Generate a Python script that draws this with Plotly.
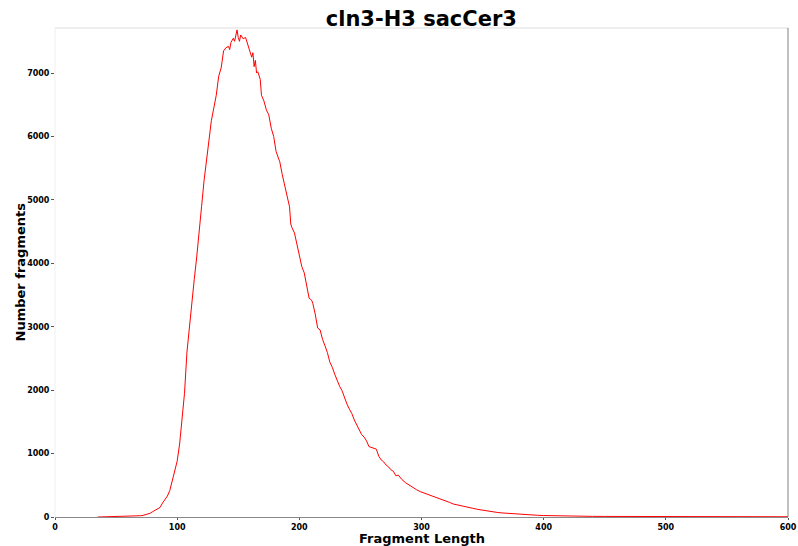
import plotly.graph_objects as go

lengths = [35, 40, 45, 50, 55, 60, 65, 68, 70, 72, 74, 76, 78, 80, 82, 84, 86, 88, 90, 92, 94, 96, 98,
           100, 102, 104, 106, 108, 110, 112, 114, 116, 118, 120, 122, 124, 126, 128, 130, 132, 134, 136,
           138, 140, 142, 143, 144, 146, 147, 148, 149, 150, 151, 152, 153, 154, 156, 157, 158, 160, 161,
           162, 163, 164, 165, 166, 167, 168, 169, 171, 173, 175, 177, 179, 181, 183, 184, 186, 188, 190,
           192, 193, 194, 196, 198, 200, 202, 204, 206, 208, 210, 211, 213, 215, 217, 219, 221, 223, 225,
           227, 229, 231, 233, 235, 237, 239, 241, 243, 245, 247, 249, 251, 253, 255, 257, 259, 261, 263,
           265, 267, 269, 271, 273, 275, 277, 279, 281, 284, 287, 290, 293, 296, 299, 302, 305, 308, 311,
           314, 317, 320, 323, 326, 329, 332, 335, 338, 342, 346, 350, 354, 358, 362, 366, 370, 375, 380,
           385, 390, 395, 400, 410, 420, 430, 440, 450, 460, 470, 480, 490, 500, 520, 540, 560, 580, 600]
counts = [0, 2, 3, 4, 6, 8, 12, 15, 20, 25, 35, 45, 60, 85, 110, 130, 150, 220, 280, 330, 420, 560, 700,
          880, 1150, 1550, 1950, 2600, 3000, 3450, 3750, 4100, 4550, 4900, 5300, 5600, 5900, 6250, 6450,
          6650, 6950, 7080, 7350, 7400, 7420, 7370, 7480, 7550, 7500, 7620, 7680, 7560, 7500, 7600, 7570,
          7540, 7560, 7490, 7460, 7300, 7250, 7320, 7100, 7200, 7000, 7020, 6950, 6900, 6650, 6560, 6420,
          6340, 6130, 6000, 5760, 5650, 5600, 5400, 5220, 5080, 4890, 4620, 4560, 4480, 4300, 4080, 3950,
          3850, 3660, 3450, 3420, 3370, 3200, 2980, 2950, 2800, 2700, 2590, 2440, 2360, 2250, 2150, 2060,
          1990, 1870, 1780, 1700, 1630, 1530, 1450, 1390, 1300, 1260, 1200, 1110, 1100, 1090, 1070, 960,
          900, 870, 820, 790, 745, 720, 650, 660, 590, 540, 500, 470, 430, 400, 380, 350, 330, 310, 290,
          270, 250, 230, 205, 190, 175, 160, 150, 137, 120, 105, 92, 82, 72, 64, 58, 48, 42, 36, 31, 27,
          23, 17, 14, 12, 10, 9, 8, 7, 7, 6, 6, 5, 5, 4, 4, 4]

x_ticks = [0, 100, 200, 300, 400, 500, 600]
y_ticks = [0, 1000, 2000, 3000, 4000, 5000, 6000, 7000]

FONT = "DejaVu Sans"

fig = go.Figure()
fig.add_trace(go.Scatter(x=lengths, y=counts, mode="lines",
                         line=dict(color="#ff0000", width=1), showlegend=False))

fig.update_layout(
    width=798, height=546,
    margin=dict(l=55, r=10, t=28, b=29),
    paper_bgcolor="white", plot_bgcolor="white",
    title=dict(text="<b>cln3-H3 sacCer3</b>", x=0.528, xanchor="center", y=0.965, yanchor="middle",
               font=dict(family=FONT, size=21, color="black")),
    xaxis=dict(range=[0, 600], tickvals=x_ticks, ticktext=[f"<b>{v}</b>" for v in x_ticks],
               showgrid=False, zeroline=False, showline=True, linecolor="#8a8a8a", linewidth=1,
               ticks="outside", ticklen=2, tickcolor="#555", automargin=False,
               tickfont=dict(family=FONT, size=8, color="black")),
    yaxis=dict(range=[0, 7710], tickvals=y_ticks, ticktext=[f"<b>{v}</b>" for v in y_ticks],
               showgrid=False, zeroline=False, showline=False, automargin=False,
               ticks="outside", ticklen=3, tickcolor="#555",
               tickfont=dict(family=FONT, size=8, color="black")),
    shapes=[
        dict(type="line", xref="x domain", yref="y domain", x0=0, x1=1, y0=1, y1=1,
             line=dict(color="#eeeeee", width=2)),
        dict(type="line", xref="x domain", yref="y domain", x0=0, x1=0, y0=0, y1=1,
             line=dict(color="#f0f0f0", width=1)),
        dict(type="line", xref="x domain", yref="y domain", x0=1, x1=1, y0=0, y1=1,
             line=dict(color="#808080", width=1)),
    ],
    annotations=[
        dict(text="<b>Fragment Length</b>", xref="x domain", yref="paper", x=0.5, y=0.0, yshift=-21,
             xanchor="center", yanchor="middle", showarrow=False,
             font=dict(family=FONT, size=13, color="black")),
        dict(text="<b>Number fragments</b>", xref="paper", yref="y domain", x=0, xshift=-35, y=0.5,
             xanchor="center", yanchor="middle", textangle=-90, showarrow=False,
             font=dict(family=FONT, size=13, color="black")),
    ],
)

fig.write_html("out.html")
